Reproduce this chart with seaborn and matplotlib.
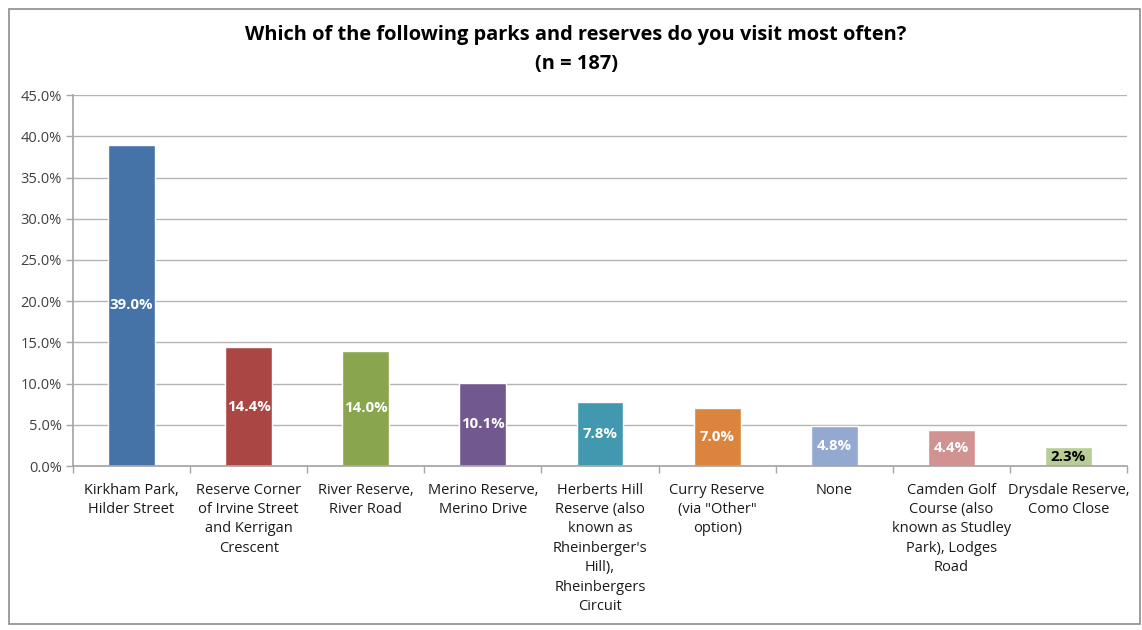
import matplotlib
matplotlib.use("Agg")
import matplotlib.pyplot as plt
from matplotlib.patches import Rectangle
from matplotlib.ticker import MultipleLocator, FuncFormatter
import seaborn as sns
import pandas as pd

categories = [
    "Kirkham Park,\nHilder Street",
    "Reserve Corner\nof Irvine Street\nand Kerrigan\nCrescent",
    "River Reserve,\nRiver Road",
    "Merino Reserve,\nMerino Drive",
    "Herberts Hill\nReserve (also\nknown as\nRheinberger's\nHill),\nRheinbergers\nCircuit",
    "Curry Reserve\n(via \"Other\"\noption)",
    "None",
    "Camden Golf\nCourse (also\nknown as Studley\nPark), Lodges\nRoad",
    "Drysdale Reserve,\nComo Close",
]
shares = [39.0, 14.4, 14.0, 10.1, 7.8, 7.0, 4.8, 4.4, 2.3]
bar_colors = ["#4572A7", "#AA4643", "#89A54E", "#71588F", "#4198AF",
              "#DB843D", "#93A9CF", "#D19392", "#B9CD96"]
label_colors = ["white"] * 8 + ["black"]

df = pd.DataFrame({"park": categories, "share": shares})

sns.set_theme(style="white")
plt.rcParams["font.family"] = ["Open Sans", "DejaVu Sans"]

fig = plt.figure(figsize=(11.42, 6.30), dpi=100)
ax = fig.add_axes([0.0639, 0.2603, 0.9230, 0.5887])

sns.barplot(data=df, x="park", y="share", hue="park", palette=bar_colors,
            legend=False, width=0.4, saturation=1, ax=ax)

ax.set_ylim(0, 45)
ax.set_xlim(-0.5, len(categories) - 0.5)
ax.yaxis.set_major_locator(MultipleLocator(5))
ax.yaxis.set_major_formatter(FuncFormatter(lambda v, _: f"{v:.1f}%"))
ax.grid(axis="y", color="#B3B3B3", linewidth=1)
ax.set_axisbelow(True)
for side in ["top", "right"]:
    ax.spines[side].set_visible(False)
ax.spines["left"].set_color("#A6A6A6")
ax.spines["bottom"].set_color("#A6A6A6")
ax.set_xlabel("")
ax.set_ylabel("")

ax.tick_params(axis="y", which="major", direction="out", length=5, width=1,
               color="#A6A6A6", labelsize=10.5, labelcolor="#404040", pad=3, left=True)
ax.tick_params(axis="x", which="major", length=0, labelsize=10.5,
               labelcolor="#1A1A1A", pad=12)
for lbl in ax.get_xticklabels():
    lbl.set_horizontalalignment("center")
    lbl.set_verticalalignment("top")
    lbl.set_linespacing(1.4)

# category separator ticks below the x axis
ax.set_xticks([i + 0.5 for i in range(-1, len(categories))], minor=True)
ax.tick_params(axis="x", which="minor", direction="out", length=5, width=1,
               color="#A6A6A6", bottom=True)

for i, (v, c) in enumerate(zip(shares, label_colors)):
    ax.text(i, v / 2, f"{v:.1f}%", ha="center", va="center", color=c,
            fontsize=10.8, fontweight="bold")

fig.text(0.5045, 0.921, "Which of the following parks and reserves do you visit most often?\n(n = 187)",
         ha="center", va="center", fontsize=14.4, fontweight="bold", color="black",
         linespacing=1.58)

fig.patches.append(Rectangle((9 / 1142, 6 / 630), 1131 / 1142, 615 / 630,
                             transform=fig.transFigure, fill=False,
                             edgecolor="#8C8C8C", linewidth=1.2))

fig.savefig("out.png", dpi=100)
